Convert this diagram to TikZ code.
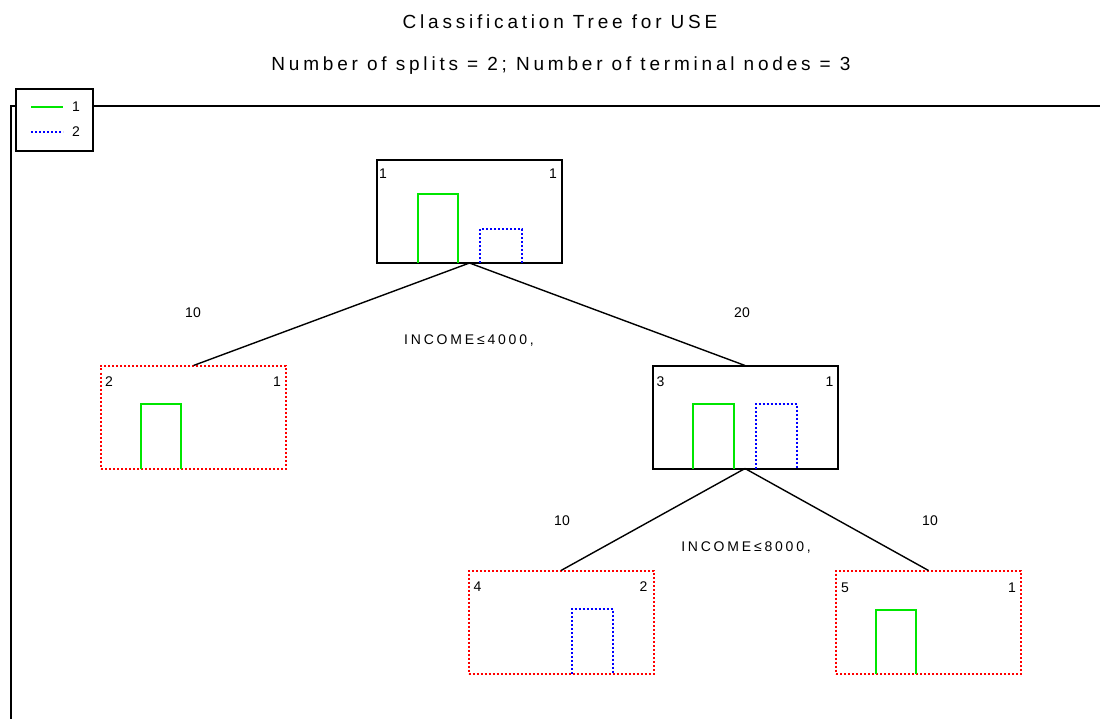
\documentclass[tikz,border=0pt]{standalone}
\usepackage{fontspec}
\setmainfont{Liberation Sans}
\newfontfamily\widefont[LetterSpace=20]{Liberation Sans}
\usetikzlibrary{calc}
\definecolor{bargreen}{RGB}{0,230,0}
\definecolor{barblue}{RGB}{0,0,255}
\definecolor{leafred}{RGB}{255,0,0}
\begin{document}
\begin{tikzpicture}[x=1pt,y=-1pt,
  splitbox/.style={draw=black, line width=2pt, rectangle, inner sep=0pt, outer sep=0pt,
    minimum width=185pt, minimum height=103pt},
  leafbox/.style={splitbox, draw=leafred, dash pattern=on 2pt off 2pt},
  branch/.style={line width=1.4pt, black},
  gbar/.style={draw=bargreen, line width=2pt},
  bbar/.style={draw=barblue, line width=2pt, dash pattern=on 2pt off 2pt},
  titletext/.style={font=\widefont\fontsize{19}{21}\selectfont, inner sep=0pt},
  small/.style={font=\fontsize{14}{16}\selectfont, inner sep=0pt},
  splitlabel/.style={font=\widefont\fontsize{14}{16}\selectfont, inner sep=0pt},
  frame/.style={line width=2pt, black}
]
\useasboundingbox (0,0) rectangle (1100,719);

% titles
\node[titletext] (t1) at (560,22) {Classification Tree for USE};
\node[titletext] (t2) at (561,66) {Number of splits = 2; Number of terminal nodes = 3};

% plot frame
\draw[frame] (1100,106) -- (11,106) -- (11,719);

% legend
\node[draw=black, line width=2pt, fill=white, inner sep=0pt, outer sep=0pt,
      minimum width=77pt, minimum height=62pt] (legend) at (54.5,120) {};
\draw[gbar] (31,107) -- (63,107);
\draw[bbar] (31,132) -- (63,132);
\node[small] (l1) at (76,107) {1};
\node[small] (l2) at (76,132) {2};

% tree nodes
\node[splitbox] (n1) at (469.5,211.5) {};
\node[leafbox]  (n2) at (193.5,417) {};
\node[splitbox] (n3) at (745,417) {};
\node[leafbox]  (n4) at (561,622) {};
\node[leafbox]  (n5) at (928.5,622) {};

% node number (left) and predicted class (right)
\node[small] at ($(n1.north west)+(6,14)$) {1};
\node[small] at ($(n1.north east)+(-9,14)$) {1};
\node[small] at ($(n2.north west)+(8,16)$) {2};
\node[small] at ($(n2.north east)+(-9,16)$) {1};
\node[small] at ($(n3.north west)+(8,16)$) {3};
\node[small] at ($(n3.north east)+(-8,16)$) {1};
\node[small] at ($(n4.north west)+(9,16)$) {4};
\node[small] at ($(n4.north east)+(-10,16)$) {2};
\node[small] at ($(n5.north west)+(9,17)$) {5};
\node[small] at ($(n5.north east)+(-9,17)$) {1};

% class histograms
\draw[gbar] ($(n1.south west)+(41,0)$) -- ++(0,-69) -- ++(40,0) -- ++(0,69);
\draw[bbar] ($(n1.south west)+(103,0)$) -- ++(0,-34) -- ++(42,0) -- ++(0,34);
\draw[gbar] ($(n2.south west)+(40,0)$) -- ++(0,-65) -- ++(40,0) -- ++(0,65);
\draw[gbar] ($(n3.south west)+(40,0)$) -- ++(0,-65) -- ++(41,0) -- ++(0,65);
\draw[bbar] ($(n3.south west)+(103,0)$) -- ++(0,-65) -- ++(41,0) -- ++(0,65);
\draw[bbar] ($(n4.south west)+(103,0)$) -- ++(0,-65) -- ++(41,0) -- ++(0,65);
\draw[gbar] ($(n5.south west)+(40,0)$) -- ++(0,-64) -- ++(40,0) -- ++(0,64);

% branches
\draw[branch] (n1.south) -- (n2.north);
\draw[branch] (n1.south) -- (n3.north);
\draw[branch] (n3.south) -- (n4.north);
\draw[branch] (n3.south) -- (n5.north);

% branch sizes and split rules
\node[small] (c2) at (193,313) {10};
\node[small] (c3) at (742,313) {20};
\node[splitlabel] (s1) at (469,341) {INCOME≤4000,};
\node[small] (c4) at (562,521) {10};
\node[small] (c5) at (930,521) {10};
\node[splitlabel] (s3) at (746,548) {INCOME≤8000,};
\end{tikzpicture}
\end{document}
